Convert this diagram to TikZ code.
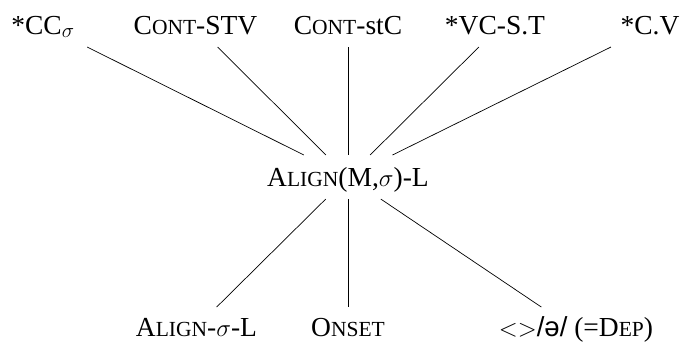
\documentclass[tikz,border=0pt]{standalone}
\usepackage{fontspec}
\setmainfont{Liberation Serif}
\newfontfamily\ipafont{Liberation Sans}
\usetikzlibrary{calc}
% faked small capitals: lowered-size capitals
\newcommand\smc[1]{{\fontsize{21.5}{22}\selectfont #1}}

\begin{document}
\begin{tikzpicture}[x=1pt,y=-1pt,
  lbl/.style={anchor=base, inner sep=0pt, text height=18pt, text depth=0pt,
              font=\fontsize{27.5}{30}\selectfont},
  link/.style={line width=0.7pt}]
\useasboundingbox (0,0) rectangle (683,341);

% top row
\node[lbl] (cc)   at (43,34)    {*CC$_\sigma$};
\node[lbl] (stv)  at (195.5,34) {C\smc{ONT}-STV};
\node[lbl] (stc)  at (348,34)   {C\smc{ONT}-stC};
\node[lbl] (vcst) at (495,34)   {*VC-S.T};
\node[lbl] (cv)   at (650,34)   {*C.V};

% middle
\node[lbl] (m) at (348,186) {A\smc{LIGN}(M,$\sigma$)-L};

% bottom row
\node[lbl] (al)  at (196.5,336) {A\smc{LIGN}-$\sigma$-L};
\node[lbl] (on)  at (348,336)   {O\smc{NSET}};
\node[lbl] (dep) at (576,336)   {$<>${\ipafont/ə/} (=D\smc{EP})};

% connectors, cut at common heights above and below;
% \dx moves the aim point sideways on the label
\foreach \t/\dx in {cc/0,stv/0,stc/0,vcst/6,cv/5.5}
  \draw[link] ($(m)!0.145!([xshift=\dx]\t.center)$) -- ($(m)!0.855!([xshift=\dx]\t.center)$);
\foreach \b/\dx in {al/0,on/0,dep/-5}
  \draw[link] ($(m)!0.147!([xshift=\dx]\b.center)$) -- ($(m)!0.867!([xshift=\dx]\b.center)$);
\end{tikzpicture}
\end{document}
